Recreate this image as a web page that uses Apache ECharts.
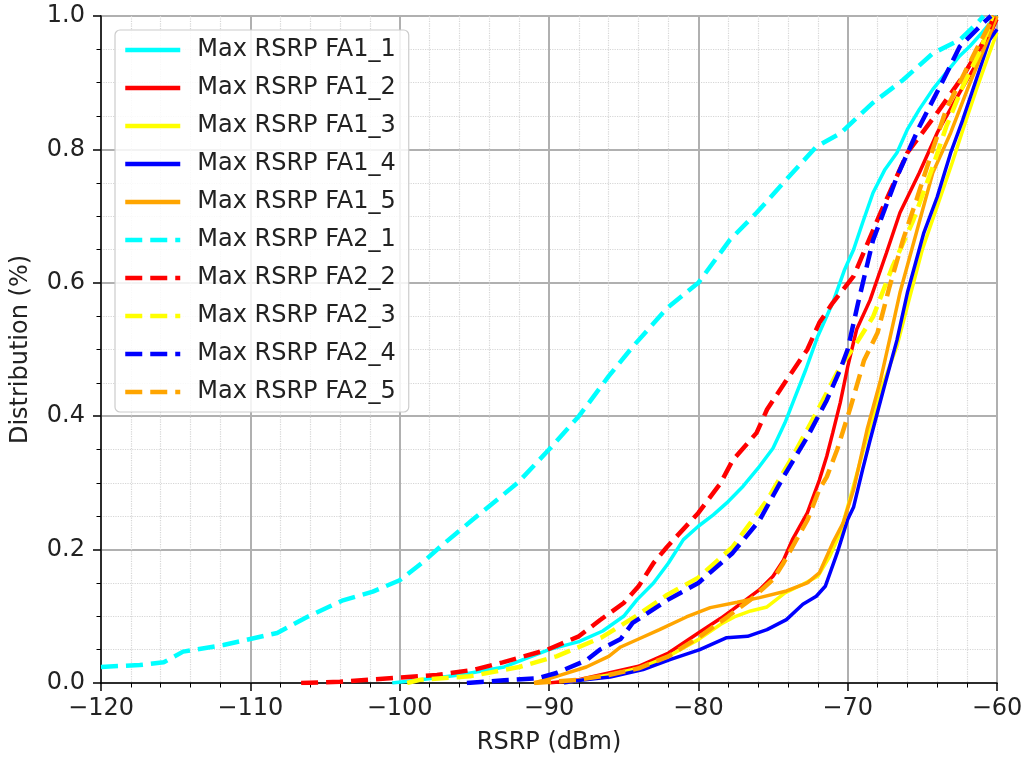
<!DOCTYPE html>
<html>
<head>
<meta charset="utf-8">
<script src="https://cdn.jsdelivr.net/npm/echarts@6/dist/echarts.min.js"></script>
<style>
  html, body { margin: 0; padding: 0; background: #fff; }
  #chart { width: 1026px; height: 761px; }
</style>
</head>
<body>
<div id="chart"></div>
<script>
// RSRP (dBm) vs cumulative distribution
var fa1_1 = [[-100.5,0],[-98.6,0.005],[-96,0.012],[-93,0.024],[-90,0.05],[-88,0.062],[-86.4,0.078],[-85,0.1],[-84.1,0.125],[-83,0.15],[-82,0.18],[-81,0.215],[-80,0.235],[-79,0.252],[-78,0.272],[-77,0.295],[-76,0.322],[-75,0.352],[-74.2,0.39],[-73.5,0.43],[-72.8,0.47],[-72,0.52],[-71,0.57],[-70.2,0.62],[-69.6,0.65],[-69,0.69],[-68.3,0.735],[-67.5,0.77],[-66.7,0.795],[-66,0.83],[-65.2,0.86],[-64.3,0.89],[-63.4,0.915],[-62.5,0.94],[-61.8,0.955],[-61,0.975],[-60.3,0.994],[-60,1]];
var fa1_2 = [[-90,0],[-88,0.005],[-86,0.015],[-84,0.025],[-82,0.045],[-80,0.075],[-78.5,0.097],[-77.7,0.11],[-76.8,0.125],[-75.9,0.14],[-75,0.16],[-74.3,0.184],[-73.7,0.215],[-72.7,0.255],[-71.9,0.304],[-71.4,0.34],[-71,0.375],[-70.5,0.42],[-70,0.474],[-69.4,0.53],[-68.5,0.574],[-67.4,0.645],[-66.5,0.705],[-65.2,0.765],[-64,0.825],[-62.5,0.885],[-61.1,0.939],[-60.5,0.97],[-60,0.995]];
var fa1_3 = [[-89,0],[-88,0.004],[-86,0.012],[-84,0.022],[-82,0.04],[-80,0.065],[-78.5,0.088],[-77.5,0.1],[-76.5,0.108],[-75.4,0.114],[-74.2,0.135],[-73,0.148],[-72,0.16],[-71.2,0.19],[-70.5,0.225],[-69.8,0.28],[-69,0.345],[-68.3,0.4],[-67.6,0.45],[-66.7,0.505],[-66,0.565],[-65,0.65],[-64,0.715],[-63,0.78],[-62.2,0.835],[-61.3,0.895],[-60.5,0.945],[-60,0.975]];
var fa1_4 = [[-89,0],[-87.9,0.004],[-85.9,0.009],[-83.7,0.02],[-81.9,0.035],[-79.9,0.05],[-78.1,0.068],[-76.7,0.07],[-75.4,0.08],[-74.1,0.095],[-73,0.118],[-72.1,0.13],[-71.5,0.145],[-70.7,0.195],[-70,0.245],[-69.6,0.264],[-69,0.32],[-68.5,0.364],[-67.6,0.44],[-66.7,0.514],[-66,0.585],[-64.9,0.675],[-64,0.729],[-63.1,0.795],[-62.3,0.844],[-61.4,0.904],[-60.5,0.964],[-60,0.98]];
var fa1_5 = [[-91,0],[-89.5,0.01],[-87.5,0.024],[-86,0.04],[-85.2,0.054],[-84,0.066],[-82.6,0.08],[-80.8,0.099],[-79.2,0.113],[-77.4,0.121],[-75.9,0.128],[-74.1,0.138],[-72.7,0.15],[-71.9,0.165],[-71,0.21],[-70.3,0.24],[-69.6,0.29],[-68.7,0.38],[-67.8,0.454],[-67.2,0.514],[-66.5,0.585],[-65.4,0.675],[-64.3,0.765],[-63.1,0.825],[-62,0.889],[-60.9,0.949],[-60,1]];
var fa2_1 = [[-120,0.024],[-117.4,0.027],[-115.8,0.031],[-114.5,0.047],[-111.8,0.057],[-110,0.066],[-108.2,0.075],[-106.2,0.099],[-103.8,0.124],[-101.8,0.137],[-100,0.154],[-98.5,0.18],[-97.3,0.204],[-95.1,0.245],[-92.1,0.3],[-90,0.35],[-88,0.4],[-86,0.46],[-84.4,0.504],[-82.1,0.562],[-80,0.6],[-77.9,0.664],[-76.1,0.705],[-74.3,0.75],[-72.1,0.804],[-70.5,0.824],[-68.3,0.87],[-66.3,0.904],[-64.3,0.944],[-62.5,0.964],[-61.3,0.99],[-60.9,1]];
var fa2_2 = [[-106.6,0],[-104,0.002],[-102,0.005],[-100,0.008],[-97.5,0.012],[-95,0.02],[-93.1,0.031],[-90.1,0.05],[-88,0.07],[-86.6,0.094],[-85,0.12],[-84,0.145],[-83,0.18],[-82.1,0.204],[-80,0.255],[-78.5,0.3],[-77.7,0.334],[-76.1,0.375],[-75.4,0.41],[-74.1,0.454],[-72.7,0.5],[-71.9,0.54],[-71,0.57],[-69.6,0.61],[-67.8,0.705],[-66,0.795],[-64,0.855],[-62.3,0.909],[-60.7,0.969],[-60.2,1]];
var fa2_3 = [[-99.5,0],[-98.6,0.005],[-95.3,0.01],[-92,0.024],[-89.5,0.04],[-86.5,0.068],[-84.2,0.1],[-82.1,0.132],[-80,0.158],[-77.7,0.204],[-75.4,0.274],[-73.7,0.339],[-72.1,0.405],[-70.5,0.474],[-69.4,0.51],[-68.3,0.549],[-67,0.624],[-65.6,0.694],[-64.3,0.774],[-63.4,0.834],[-62.3,0.894],[-61.1,0.949],[-60.3,1]];
var fa2_4 = [[-95.5,0],[-93,0.004],[-90.8,0.007],[-89.5,0.015],[-87.5,0.034],[-86.6,0.05],[-85.2,0.066],[-84.4,0.09],[-82.1,0.124],[-80,0.15],[-77.7,0.195],[-75.9,0.244],[-74.3,0.309],[-72.7,0.369],[-71.4,0.424],[-70.5,0.47],[-70,0.5],[-69.3,0.57],[-68.3,0.664],[-66.7,0.759],[-65.2,0.834],[-63.6,0.904],[-62.5,0.954],[-60.9,0.99],[-60.4,1]];
var fa2_5 = [[-91,0],[-88,0.005],[-86,0.012],[-84,0.022],[-82,0.04],[-80,0.068],[-78,0.1],[-76.5,0.125],[-75,0.155],[-74.3,0.18],[-72.7,0.244],[-71.9,0.29],[-71.4,0.309],[-70.7,0.35],[-69.8,0.414],[-68.9,0.484],[-68,0.525],[-67.2,0.594],[-66.3,0.664],[-65.4,0.724],[-64.3,0.8],[-63.4,0.86],[-62.3,0.909],[-61.4,0.949],[-60.2,1]];

var names = ["Max RSRP FA1_1", "Max RSRP FA1_2", "Max RSRP FA1_3", "Max RSRP FA1_4", "Max RSRP FA1_5",
             "Max RSRP FA2_1", "Max RSRP FA2_2", "Max RSRP FA2_3", "Max RSRP FA2_4", "Max RSRP FA2_5"];
var values = [fa1_1, fa1_2, fa1_3, fa1_4, fa1_5, fa2_1, fa2_2, fa2_3, fa2_4, fa2_5];
var colors = ["#00FFFF", "#FF0000", "#FFFF00", "#0000FF", "#FFA500"];

var font = "DejaVu Sans";

var series = values.map(function (d, i) {
  return {
    name: names[i],
    type: "line",
    data: d,
    symbol: "none",
    animation: false,
    lineStyle: {
      color: colors[i % 5],
      width: i < 5 ? 3.5 : 4.5,
      type: i < 5 ? "solid" : [17, 8],
      cap: "butt"
    },
    itemStyle: { color: colors[i % 5] }
  };
});

var chart = echarts.init(document.getElementById("chart"));
chart.setOption({
  backgroundColor: "#fff",
  animation: false,
  grid: {
    left: 101, right: 29, top: 16, bottom: 78,
    show: true, borderColor: "#000", borderWidth: 1.5
  },
  legend: {
    orient: "vertical",
    left: 115, top: 30,
    data: names,
    itemWidth: 55, itemHeight: 14, itemGap: 14,
    padding: [8, 13, 8, 8],
    backgroundColor: "rgba(255,255,255,0.85)",
    borderColor: "#cccccc", borderWidth: 1.2, borderRadius: 5,
    itemStyle: { opacity: 0 },
    lineStyle: { width: 4.5 },
    textStyle: { fontFamily: font, fontSize: 24, color: "#222", padding: [0, 0, 0, 12] }
  },
  xAxis: {
    type: "value", min: -120, max: -60, interval: 10,
    name: "RSRP (dBm)", nameLocation: "middle", nameGap: 48,
    nameTextStyle: { fontFamily: font, fontSize: 24, color: "#222" },
    axisLine: { onZero: false, lineStyle: { color: "#000", width: 1.5 } },
    axisTick: { length: 8, lineStyle: { color: "#000", width: 1.5 } },
    minorTick: { show: true, splitNumber: 5, length: 4.5, lineStyle: { color: "#000", width: 1 } },
    axisLabel: {
      fontFamily: font, fontSize: 24, color: "#222", margin: 14,
      formatter: function (v) { return String(v).replace("-", "\u2212"); }
    },
    splitLine: { show: true, lineStyle: { color: "#b0b0b0", width: 2 } },
    minorSplitLine: { show: true, lineStyle: { color: "#d6d6d6", width: 1.2, type: "dotted" } }
  },
  yAxis: {
    type: "value", min: 0, max: 1, interval: 0.2,
    name: "Distribution (%)", nameLocation: "middle", nameGap: 68,
    nameTextStyle: { fontFamily: font, fontSize: 24, color: "#222" },
    axisLine: { onZero: false, lineStyle: { color: "#000", width: 1.5 } },
    axisTick: { length: 8, lineStyle: { color: "#000", width: 1.5 } },
    minorTick: { show: true, splitNumber: 4, length: 4.5, lineStyle: { color: "#000", width: 1 } },
    axisLabel: {
      fontFamily: font, fontSize: 24, color: "#222", margin: 16,
      formatter: function (v) { return v.toFixed(1); }
    },
    splitLine: { show: true, lineStyle: { color: "#b0b0b0", width: 2 } },
    minorSplitLine: { show: true, lineStyle: { color: "#d6d6d6", width: 1.2, type: "dotted" } }
  },
  series: series
});
</script>
</body>
</html>
